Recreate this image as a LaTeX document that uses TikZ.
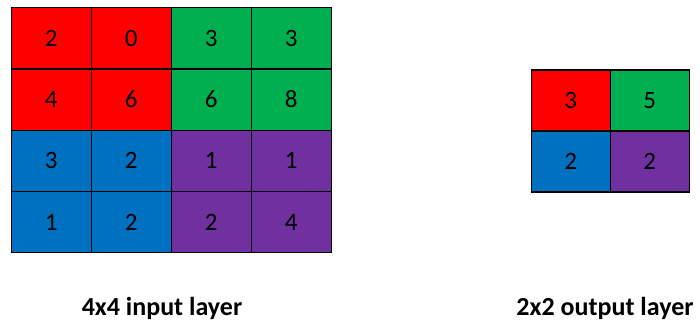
\documentclass[tikz,border=0pt]{standalone}
\usepackage{fontspec}
\setmainfont{Carlito}
\definecolor{cred}{HTML}{FF0000}
\definecolor{cgreen}{HTML}{00B050}
\definecolor{cblue}{HTML}{0070C0}
\definecolor{cpurple}{HTML}{7030A0}
\begin{document}
\begin{tikzpicture}[x=1pt,y=-1pt,
  cell/.style={draw=black,line width=1.2pt,minimum width=80pt,minimum height=61.3pt,inner sep=0pt,font=\fontsize{25}{25}\selectfont,anchor=north west},
  cellb/.style={cell,minimum width=79pt,minimum height=61pt},
  lbl/.style={font=\fontsize{26}{26}\selectfont\bfseries,anchor=base}]
\useasboundingbox (0,0) rectangle (700,324);
% input grid
\node[cell,fill=cred] (a11) at (10.5,7) {2};
\node[cell,fill=cred] (a12) at (90.5,7) {0};
\node[cell,fill=cgreen] (a13) at (170.5,7) {3};
\node[cell,fill=cgreen] (a14) at (250.5,7) {3};
\node[cell,fill=cred] (a21) at (10.5,68.3) {4};
\node[cell,fill=cred] (a22) at (90.5,68.3) {6};
\node[cell,fill=cgreen] (a23) at (170.5,68.3) {6};
\node[cell,fill=cgreen] (a24) at (250.5,68.3) {8};
\node[cell,fill=cblue] (a31) at (10.5,129.6) {3};
\node[cell,fill=cblue] (a32) at (90.5,129.6) {2};
\node[cell,fill=cpurple] (a33) at (170.5,129.6) {1};
\node[cell,fill=cpurple] (a34) at (250.5,129.6) {1};
\node[cell,fill=cblue] (a41) at (10.5,190.9) {1};
\node[cell,fill=cblue] (a42) at (90.5,190.9) {2};
\node[cell,fill=cpurple] (a43) at (170.5,190.9) {2};
\node[cell,fill=cpurple] (a44) at (250.5,190.9) {4};
% output grid
\node[cellb,fill=cred] (b11) at (530.5,69.3) {3};
\node[cellb,fill=cgreen] (b12) at (609.5,69.3) {5};
\node[cellb,fill=cblue] (b21) at (530.5,130.3) {2};
\node[cellb,fill=cpurple] (b22) at (609.5,130.3) {2};
% labels
\node[lbl] (l1) at (162,315) {4x4 input layer};
\node[lbl] (l2) at (605,315) {2x2 output layer};
\end{tikzpicture}
\end{document}
